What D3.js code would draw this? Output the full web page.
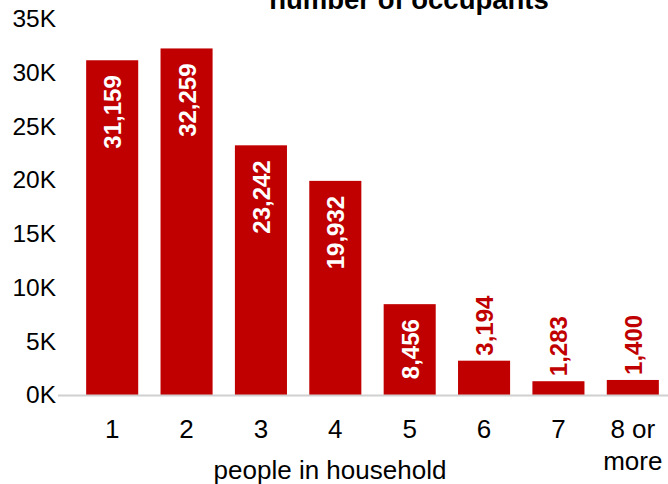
<!DOCTYPE html>
<html>
<head>
<meta charset="utf-8">
<script src="https://cdn.jsdelivr.net/npm/d3@7"></script>
<style>
  body { margin: 0; background: #fff; }
  text { font-family: "Liberation Sans", Arial, sans-serif; }
</style>
</head>
<body>
<svg id="chart"></svg>
<script>
// chart data
const categories = ["1", "2", "3", "4", "5", "6", "7", "8 or more"];
const households = [31159, 32259, 23242, 19932, 8456, 3194, 1283, 1400];
const yTicks = [0, 5000, 10000, 15000, 20000, 25000, 30000, 35000];

const width = 668;
const height = 484;
const red = "#c00000";

const svg = d3.select("#chart").attr("width", width).attr("height", height);

const x = d3.scaleBand()
  .domain(categories)
  .range([75, 670])
  .paddingInner(0.3)
  .paddingOuter(0.15);

const y = d3.scaleLinear().domain([0, 35000]).range([395, 19]);

// title (cut at the top in the original)
svg.append("text")
  .attr("x", 409)
  .attr("y", 9)
  .attr("text-anchor", "middle")
  .attr("font-size", 27.5)
  .attr("font-weight", "bold")
  .text("number of occupants");

// y axis labels only
const yAxis = svg.append("g")
  .attr("transform", "translate(56,0)")
  .call(d3.axisLeft(y).tickValues(yTicks).tickSize(0).tickPadding(0)
    .tickFormat(d => d / 1000 + "K"));
yAxis.select(".domain").remove();
yAxis.selectAll("text").attr("font-size", 24.5).attr("fill", "#000")
  .attr("font-family", '"Liberation Sans", Arial, sans-serif');

// bars
const data = categories.map((c, i) => ({ cat: c, value: households[i] }));

svg.append("g")
  .selectAll("rect")
  .data(data)
  .join("rect")
  .attr("x", d => x(d.cat))
  .attr("y", d => y(d.value))
  .attr("width", x.bandwidth())
  .attr("height", d => y(0) - y(d.value))
  .attr("fill", red);

// baseline
svg.append("line")
  .attr("x1", 58).attr("x2", 668)
  .attr("y1", y(0) + 0.5).attr("y2", y(0) + 0.5)
  .attr("stroke", "#d0d0d0")
  .attr("stroke-width", 2);

// value labels, rotated; inside for tall bars, outside for short ones
const fmt = d3.format(",");
svg.append("g")
  .selectAll("text")
  .data(data)
  .join("text")
  .attr("transform", d => {
    const inside = d.value > 5000;
    const py = inside ? y(d.value) + 15 : y(d.value) - 5;
    return `translate(${x(d.cat) + x.bandwidth() / 2 + 9},${py}) rotate(-90)`;
  })
  .attr("text-anchor", d => d.value > 5000 ? "end" : "start")
  .attr("font-size", 24)
  .attr("font-weight", "bold")
  .attr("fill", d => d.value > 5000 ? "#fff" : red)
  .text(d => fmt(d.value));

// x axis labels
const xLabels = svg.append("g")
  .selectAll("text")
  .data(categories)
  .join("text")
  .attr("x", d => x(d) + x.bandwidth() / 2)
  .attr("y", 438)
  .attr("text-anchor", "middle")
  .attr("font-size", 26);
xLabels.each(function (d) {
  const words = d === "8 or more" ? ["8 or", "more"] : [d];
  const t = d3.select(this);
  words.forEach((w, i) => {
    t.append("tspan")
      .attr("x", x(d) + x.bandwidth() / 2)
      .attr("dy", i === 0 ? 0 : 32)
      .text(w);
  });
});

// axis title
svg.append("text")
  .attr("x", 330)
  .attr("y", 479)
  .attr("text-anchor", "middle")
  .attr("font-size", 26)
  .text("people in household");
</script>
</body>
</html>
